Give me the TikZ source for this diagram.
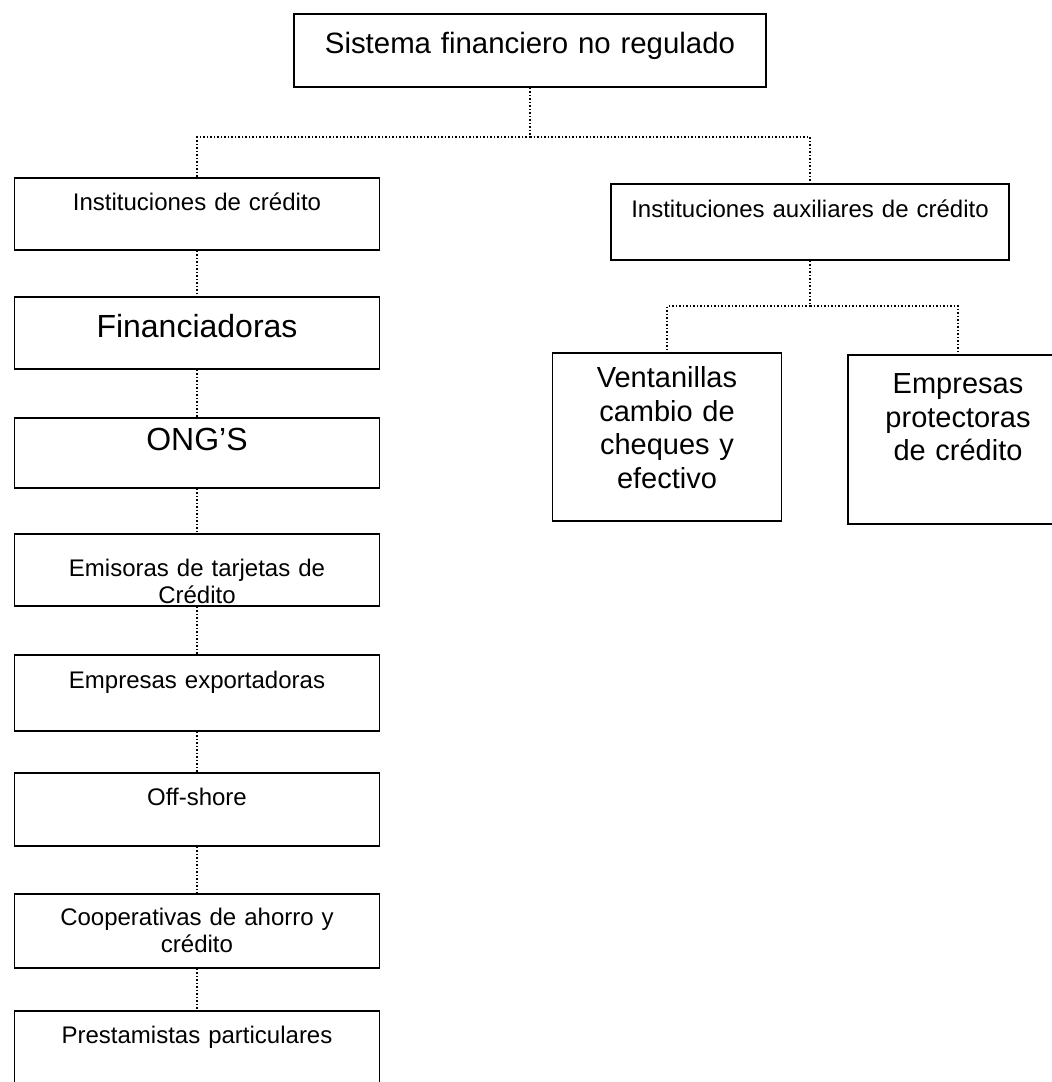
\documentclass[tikz,border=0pt]{standalone}
\usepackage{fontspec}
\setmainfont{Liberation Sans}
\begin{document}
\begin{tikzpicture}[x=0.5pt,y=-0.5pt,
    box/.style={draw, line width=0.8pt, anchor=north, inner sep=0pt, align=center, text width=#1},
    link/.style={densely dotted, line width=0.75pt}]

  \useasboundingbox (0,0) rectangle (1051,1082);

  \node[box=236pt, font=\fontsize{14.7}{17}\selectfont, text height=20pt, text depth=16.5pt]
    (sistema) at (530,13) {Sistema financiero no regulado};

  % left column
  \begin{scope}[every node/.style={box=182.5pt, font=\fontsize{12}{13.5}\selectfont}]
    \node (inst) at (197,177) [text height=16.5pt, text depth=19.5pt] {Instituciones de crédito};
    \node (fin)  at (197,296) [text height=20.5pt, text depth=15.5pt, font=\fontsize{16}{18}\selectfont] {Financiadoras};
    \node (ong)  at (197,417) [text height=16.5pt, text depth=18.5pt, font=\fontsize{16}{18}\selectfont] {ONG'S};
    \node (emi)  at (197,533) [text height=21.5pt, text depth=14.5pt] {Emisoras de tarjetas de\\Crédito};
    \node (exp)  at (197,654) [text height=17pt, text depth=21pt] {Empresas exportadoras};
    \node (off)  at (197,772) [text height=16.5pt, text depth=20pt] {Off-shore};
    \node (coop) at (197,893) [text height=16pt, text depth=21pt] {Cooperativas de ahorro y\\crédito};
    \node (prest) at (197,1010) [text height=16.5pt, text depth=30pt] {Prestamistas particulares};
  \end{scope}

  % right column
  \node[box=199pt, font=\fontsize{12}{13.5}\selectfont, text height=17pt, text depth=21pt]
    (aux) at (810,183) {Instituciones auxiliares de crédito};
  \begin{scope}[every node/.style={font=\fontsize{14.5}{16.75}\selectfont}]
    \node[box=114.5pt, text height=17.5pt, text depth=66.5pt] (vent) at (667,352)
      {Ventanillas\\cambio de\\cheques y\\efectivo};
    \node[box=110pt, text height=19.5pt, text depth=65pt] (prot) at (958,354)
      {Empresas\\protectoras\\de crédito};
  \end{scope}

  \coordinate (bus1) at (530,137);
  \coordinate (bus2) at (810,306);

  \draw[link] (sistema.south) -- (bus1);
  \draw[link] (bus1) -| (inst.north);
  \draw[link] (bus1) -| (aux.north);

  \foreach \a/\b in {inst/fin, fin/ong, ong/emi, emi/exp, exp/off, off/coop, coop/prest}
    \draw[link] (\a) -- (\b);

  \draw[link] (aux.south) -- (bus2);
  \draw[link] (bus2) -| (vent.north);
  \draw[link] (bus2) -| (prot.north);

\end{tikzpicture}
\end{document}
